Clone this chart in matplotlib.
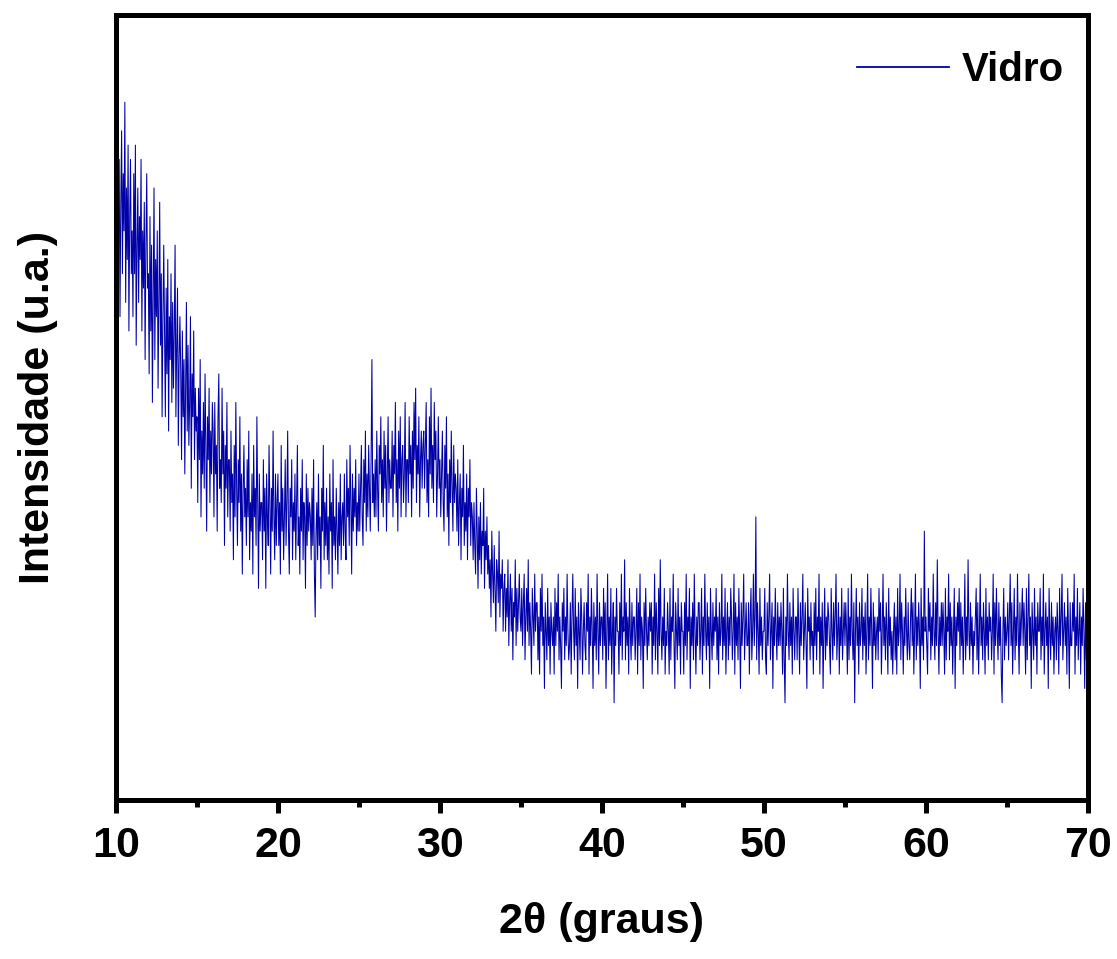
import numpy as np
import matplotlib.pyplot as plt
from matplotlib.ticker import MultipleLocator

# 2theta from 10 to 70 deg, step 0.05 deg; counts
counts_10_20 = [
    43, 36, 48, 39, 45, 34, 42, 47, 37, 44, 40, 49, 35, 43, 38, 46, 33, 41, 45, 37,
    40, 34, 44, 37, 46, 32, 39, 43, 35, 41, 38, 45, 33, 40, 36, 42, 31, 39, 44, 36,
    37, 30, 41, 33, 39, 28, 36, 43, 31, 38, 34, 40, 29, 35, 42, 32, 37, 27, 34, 39,
    33, 27, 36, 30, 38, 26, 34, 31, 37, 28, 35, 29, 33, 39, 27, 32, 36, 25, 31, 34,
    30, 24, 33, 27, 31, 23, 29, 35, 26, 32, 25, 28, 34, 22, 30, 27, 33, 24, 29, 26,
    27, 21, 29, 24, 31, 20, 26, 23, 28, 22, 30, 25, 19, 27, 24, 29, 21, 26, 23, 28,
    26, 20, 28, 23, 25, 19, 27, 30, 22, 24, 21, 29, 23, 26, 18, 25, 22, 28, 20, 24,
    24, 19, 26, 21, 23, 17, 25, 20, 28, 22, 18, 24, 21, 27, 19, 23, 16, 22, 25, 20,
    22, 18, 24, 20, 26, 17, 21, 19, 23, 16, 25, 20, 22, 18, 27, 21, 15, 23, 19, 21,
    21, 17, 24, 19, 22, 15, 23, 20, 18, 25, 21, 16, 22, 19, 26, 20, 17, 23, 18, 21,
]
counts_20_30 = [
    23, 18, 21, 16, 25, 19, 22, 17, 20, 24, 18, 21, 26, 19, 16, 22, 20, 24, 17, 21,
    19, 23, 17, 21, 25, 18, 20, 16, 22, 19, 24, 17, 21, 20, 15, 23, 18, 22, 19, 21,
    20, 17, 22, 18, 24, 16, 13, 19, 21, 17, 23, 18, 20, 15, 22, 19, 25, 17, 21, 18,
    22, 17, 20, 16, 23, 19, 21, 15, 24, 18, 20, 17, 22, 19, 16, 21, 18, 23, 17, 20,
    21, 18, 23, 19, 17, 24, 20, 22, 18, 25, 21, 16, 23, 19, 22, 20, 24, 18, 21, 19,
    23, 19, 22, 25, 20, 18, 24, 21, 26, 19, 23, 20, 25, 22, 19, 24, 31, 21, 23, 20,
    24, 20, 26, 22, 19, 25, 23, 27, 21, 24, 20, 26, 22, 25, 19, 23, 27, 21, 24, 22,
    22, 26, 20, 25, 23, 28, 21, 24, 19, 26, 22, 27, 20, 24, 25, 21, 23, 28, 20, 24,
    24, 21, 27, 23, 25, 20, 26, 22, 28, 24, 29, 21, 25, 23, 27, 20, 24, 26, 22, 25,
    26, 22, 25, 28, 21, 24, 20, 27, 23, 29, 22, 25, 21, 28, 24, 26, 20, 23, 27, 22,
]
counts_30_40 = [
    24, 20, 23, 26, 21, 19, 25, 22, 27, 20, 23, 18, 24, 21, 26, 22, 19, 25, 21, 23,
    22, 19, 24, 18, 21, 23, 17, 22, 20, 25, 18, 21, 19, 23, 17, 22, 20, 24, 18, 21,
    20, 17, 21, 18, 16, 22, 19, 15, 20, 17, 21, 16, 19, 18, 22, 15, 19, 17, 20, 16,
    18, 15, 17, 13, 19, 16, 14, 18, 15, 12, 17, 16, 14, 19, 13, 16, 15, 17, 12, 15,
    16, 12, 15, 13, 17, 11, 14, 16, 12, 15, 10, 14, 13, 17, 11, 15, 12, 14, 16, 13,
    12, 15, 11, 14, 16, 10, 13, 15, 12, 17, 11, 14, 12, 9, 15, 13, 11, 16, 12, 14,
    14, 10, 13, 9, 15, 12, 16, 11, 13, 8, 14, 12, 10, 15, 11, 13, 9, 14, 12, 11,
    13, 9, 15, 11, 14, 12, 16, 10, 13, 11, 8, 14, 12, 15, 10, 13, 11, 16, 12, 10,
    11, 14, 9, 13, 16, 12, 10, 15, 11, 13, 8, 14, 12, 10, 15, 13, 9, 12, 14, 11,
    10, 14, 12, 16, 9, 13, 11, 15, 12, 8, 14, 11, 13, 10, 16, 12, 9, 14, 11, 13,
]
counts_40_50 = [
    13, 10, 15, 11, 14, 8, 12, 16, 10, 13, 11, 15, 9, 12, 14, 7, 13, 11, 15, 12,
    12, 9, 14, 11, 16, 10, 13, 12, 17, 10, 14, 11, 13, 9, 15, 12, 10, 14, 11, 13,
    13, 10, 12, 15, 9, 14, 11, 16, 10, 13, 12, 8, 14, 11, 15, 12, 10, 13, 11, 14,
    12, 14, 9, 13, 11, 16, 10, 14, 12, 9, 15, 11, 17, 12, 10, 13, 11, 15, 9, 12,
    11, 14, 12, 9, 15, 10, 13, 12, 16, 11, 8, 14, 12, 10, 15, 11, 13, 9, 14, 12,
    12, 9, 14, 11, 16, 10, 13, 12, 15, 8, 13, 11, 14, 10, 16, 12, 9, 13, 11, 14,
    14, 10, 12, 15, 9, 13, 11, 16, 12, 10, 14, 11, 13, 8, 15, 12, 10, 14, 11, 13,
    12, 15, 10, 13, 9, 14, 11, 12, 16, 10, 13, 11, 15, 9, 12, 14, 10, 13, 11, 15,
    13, 10, 12, 16, 9, 14, 11, 13, 10, 15, 12, 8, 14, 11, 13, 16, 10, 12, 14, 11,
    11, 14, 9, 13, 15, 10, 12, 16, 11, 13, 20, 10, 14, 12, 9, 15, 11, 13, 10, 12,
]
counts_50_60 = [
    12, 15, 10, 9, 14, 11, 13, 16, 10, 12, 14, 8, 13, 11, 15, 12, 10, 14, 11, 13,
    11, 14, 12, 9, 15, 10, 7, 13, 11, 16, 12, 10, 14, 11, 13, 9, 15, 12, 10, 13,
    13, 10, 15, 12, 9, 14, 11, 13, 16, 10, 12, 14, 11, 8, 15, 12, 13, 10, 14, 11,
    12, 9, 14, 11, 15, 10, 13, 12, 16, 9, 13, 11, 14, 8, 12, 15, 10, 13, 11, 14,
    13, 11, 9, 15, 12, 10, 14, 11, 13, 16, 10, 12, 14, 9, 13, 11, 15, 10, 12, 14,
    11, 14, 12, 9, 15, 10, 13, 11, 16, 12, 10, 14, 7, 12, 15, 11, 13, 9, 14, 11,
    12, 15, 10, 13, 11, 14, 9, 12, 16, 10, 13, 11, 15, 12, 8, 14, 11, 13, 10, 12,
    13, 10, 15, 12, 14, 9, 12, 16, 11, 13, 10, 14, 12, 9, 15, 11, 13, 10, 12, 9,
    12, 14, 10, 13, 9, 15, 11, 12, 16, 10, 14, 12, 9, 13, 11, 15, 12, 10, 14, 11,
    10, 13, 15, 11, 14, 9, 12, 16, 10, 13, 11, 14, 12, 8, 15, 11, 13, 10, 19, 12,
]
counts_60_70 = [
    13, 11, 9, 15, 12, 14, 10, 13, 11, 16, 12, 10, 14, 11, 17, 12, 9, 13, 11, 14,
    11, 14, 12, 9, 15, 10, 13, 12, 16, 10, 14, 11, 13, 9, 12, 15, 8, 13, 11, 14,
    12, 15, 10, 14, 11, 13, 9, 12, 16, 10, 13, 11, 17, 12, 10, 14, 11, 13, 9, 12,
    11, 13, 15, 10, 14, 9, 12, 16, 11, 13, 10, 14, 12, 9, 15, 11, 13, 10, 14, 12,
    13, 10, 12, 16, 9, 14, 11, 15, 12, 10, 14, 11, 13, 9, 7, 12, 15, 10, 13, 11,
    12, 14, 10, 13, 16, 11, 14, 9, 12, 15, 10, 13, 11, 16, 12, 9, 14, 11, 13, 15,
    11, 14, 12, 9, 15, 10, 13, 16, 11, 13, 8, 14, 12, 10, 15, 11, 13, 9, 14, 12,
    12, 15, 10, 13, 11, 16, 9, 12, 14, 11, 13, 8, 15, 12, 10, 14, 11, 13, 9, 12,
    13, 10, 14, 12, 9, 15, 11, 13, 16, 10, 12, 14, 11, 13, 9, 15, 12, 8, 14, 11,
    11, 14, 12, 16, 9, 13, 11, 15, 10, 12, 14, 9, 13, 11, 15, 12, 8, 14, 10, 13,
    8,
]

x_ticks = [10, 20, 30, 40, 50, 60, 70]
series_label = "Vidro"

counts = counts_10_20 + counts_20_30 + counts_30_40 + counts_40_50 + counts_50_60 + counts_60_70
two_theta = np.linspace(10, 70, len(counts))

plt.rcParams.update({
    "font.family": ["Liberation Sans", "DejaVu Sans"],
    "font.weight": "bold",
})

fig = plt.figure(figsize=(11.17, 9.59), dpi=100)
ax = fig.add_axes([0.1038, 0.1658, 0.8702, 0.8186])

ax.plot(two_theta, counts, color="#0000a8", linewidth=0.75, label=series_label)

ax.set_xlim(10, 70)
ax.set_ylim(0.2, 55.1)
ax.set_xticks(x_ticks)
ax.xaxis.set_minor_locator(MultipleLocator(5))
ax.set_yticks([])

for sp in ax.spines.values():
    sp.set_linewidth(3.6)
ax.tick_params(axis="x", which="major", direction="out", length=9, width=3.6,
               labelsize=31, pad=10)
ax.tick_params(axis="x", which="minor", direction="out", length=5, width=3.6)
for lab in ax.get_xticklabels():
    lab.set_fontweight("bold")

ax.set_xlabel("2\u03b8 (graus)", fontsize=31, fontweight="bold", labelpad=26)
ax.set_ylabel("Intensidade (u.a.)", fontsize=31, fontweight="bold", labelpad=42)

leg = ax.legend(loc="center right", bbox_to_anchor=(0.975, 0.930), frameon=False,
                fontsize=29, handlelength=2.3, handletextpad=0.3,
                borderaxespad=0, borderpad=0)
for t in leg.get_texts():
    t.set_fontweight("bold")
for h in leg.get_lines():
    h.set_linewidth(1.3)

fig.savefig("out.png", dpi=100)
